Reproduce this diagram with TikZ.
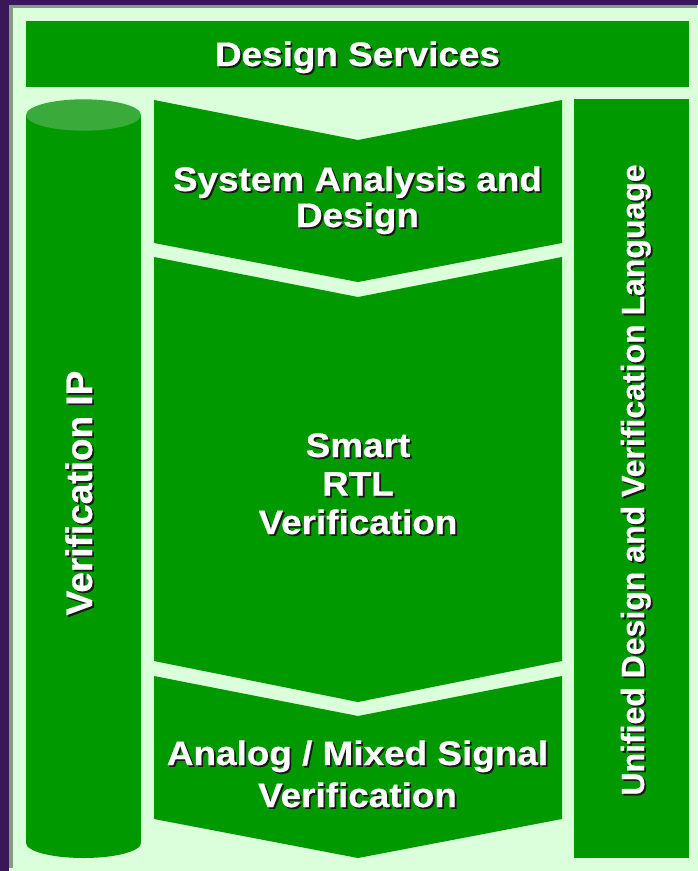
\documentclass[tikz,border=0pt]{standalone}
\usepackage{fontspec}
\setmainfont{Liberation Sans}[BoldFeatures={FakeBold=0.6}]
\newfontfamily\widesans{Liberation Sans}[FakeStretch=1.085, BoldFeatures={FakeBold=0.6}]
\definecolor{pagebg}{RGB}{218,255,218}
\definecolor{frameviolet}{RGB}{58,24,88}
\definecolor{framegray}{RGB}{136,153,136}
\definecolor{blockgreen}{RGB}{0,153,0}
\definecolor{lidgreen}{RGB}{58,170,58}
\definecolor{shadowc}{RGB}{25,25,25}
% white lettering with a small drop shadow below right
\newcommand\shd[1]{\rlap{\kern1.8pt\raisebox{-1.8pt}{\textcolor{shadowc}{#1}}}#1}
% same shadow for text turned by 90 degrees
\newcommand\shdv[1]{\rlap{\kern-1.8pt\raisebox{-1.8pt}{\textcolor{shadowc}{#1}}}#1}
\tikzset{
  lbl/.style={anchor=base, inner sep=0pt, text=white, align=center,
    font=\widesans\bfseries\fontsize{34}{36}\selectfont},
  vlbl/.style={anchor=base, inner sep=0pt, text=white, rotate=90},
  block/.style={fill=blockgreen}
}
\begin{document}
\begin{tikzpicture}[x=1pt,y=-1pt]
\useasboundingbox (0,0) rectangle (698,871);
% page and frame
\fill[pagebg] (0,0) rectangle (698,871);
\fill[frameviolet] (0,0) rectangle (698,5);
\fill[frameviolet] (0,0) rectangle (9,871);
\fill[framegray] (9,5) rectangle (697,8);
\fill[framegray] (9,5) rectangle (13,868);

% top bar
\fill[block] (26,21) rectangle (689,87);

% cylinder on the left
\fill[block] (26,115) rectangle (141,843);
\fill[block] (83.5,843) ellipse[x radius=57.5pt, y radius=15pt];
\fill[lidgreen] (83.5,115) ellipse[x radius=57.5pt, y radius=15.7pt];

% column on the right
\fill[block] (574,99) rectangle (689,858);

% three chevrons
\fill[block] (154,100) -- (358,140) -- (562,100) -- (562,243) -- (358,282) -- (154,243) -- cycle;
\fill[block] (154,257) -- (358,297) -- (562,257) -- (562,661) -- (358,702) -- (154,661) -- cycle;
\fill[block] (154,676) -- (358,716) -- (562,676) -- (562,819) -- (358,858) -- (154,819) -- cycle;

% labels (a multi-line label sits on the baseline of its last line)
\node[lbl] (services) at (357.5,66) {\shd{Design Services}};
\node[lbl] (sysan) at (357.5,227) {\shd{System Analysis and}\\\shd{Design}};
\node[lbl, font=\widesans\bfseries\fontsize{34}{38.5}\selectfont] (rtl) at (358,534)
  {\shd{Smart}\\\shd{RTL}\\\shd{Verification}};
\node[lbl, font=\widesans\bfseries\fontsize{34}{42}\selectfont] (ams) at (357.5,807)
  {\shd{Analog / Mixed Signal}\\\shd{Verification}};
\node[vlbl, font=\bfseries\fontsize{37}{40}\selectfont] (vip) at (92,493) {\shdv{Verification IP}};
\node[vlbl, font=\bfseries\fontsize{32}{36}\selectfont] (udvl) at (644,480)
  {\shdv{Unified Design and Verification Language}};
\end{tikzpicture}
\end{document}
